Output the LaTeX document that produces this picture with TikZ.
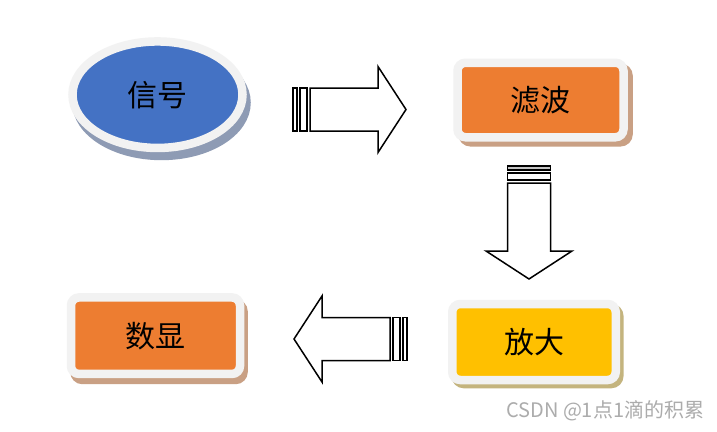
\documentclass[tikz,border=0pt]{standalone}
\usepackage{fontspec}
\setmainfont{Noto Sans CJK SC}
\usetikzlibrary{shapes.geometric}
\definecolor{sigblue}{HTML}{4472C4}
\definecolor{boxorange}{HTML}{ED7D31}
\definecolor{boxyellow}{HTML}{FFC000}
\definecolor{rimgray}{HTML}{F2F2F2}
\definecolor{blueshade}{HTML}{8E9BB4}
\definecolor{orangeshade}{HTML}{C9A084}
\definecolor{yellowshade}{HTML}{C4B47E}
\definecolor{markgray}{HTML}{ACACAC}
\definecolor{stripegray}{HTML}{C4C4C4}
\tikzset{
  arrowline/.style={draw=black, line width=1.5pt, fill=white},
  pics/blockarrow/.style={code={
    \draw[arrowline, fill=#1] (0,-21.5) rectangle (4,21.5);
    \draw[arrowline] (7,-21.5) rectangle (14,21.5);
    \draw[arrowline] (17,-21.5) -- (85,-21.5) -- (85,-43) -- (113,0) -- (85,43) -- (85,21.5) -- (17,21.5) -- cycle;
  }}
}
\begin{document}
\begin{tikzpicture}[x=1pt, y=-1pt,
  label font/.style={font=\fontsize{30}{32}\selectfont},
  shade under/.style n args={3}{preaction={draw=#1, fill=#1, line width=8.5pt, transform canvas={xshift=#2, yshift=-#3}}},
  card/.style={draw=rimgray, line width=8.5pt, rounded corners=8pt, inner sep=0pt, label font}]
  \path[fill=white] (0,0) rectangle (717,431);
  \node[ellipse, draw=rimgray, line width=8.5pt, fill=sigblue, inner sep=0pt, minimum width=170pt, minimum height=106.5pt, label font,
    shade under={blueshade}{4pt}{8pt}] (signal) at (157.5,94.7) {信号};
  \node[card, fill=boxorange, minimum width=166pt, minimum height=74.5pt, shade under={orangeshade}{5pt}{5pt}] (filter) at (540.5,100) {滤波};
  \node[card, fill=boxyellow, minimum width=163.5pt, minimum height=76pt, shade under={yellowshade}{3.5pt}{4pt}] (amp) at (534,342) {放大};
  \node[card, fill=boxorange, minimum width=169pt, minimum height=76.5pt, shade under={orangeshade}{3.5pt}{6pt}] (display) at (155.5,335.7) {数显};
  \pic at (293,109.5) {blockarrow=white};
  \pic[rotate=-90] at (529,166) {blockarrow=stripegray};
  \pic[rotate=180] at (407,339) {blockarrow=white};
  \node[anchor=west, text=markgray, inner sep=0pt, font=\fontsize{20}{20}\selectfont] (mark) at (506,411) {CSDN @1点1滴的积累};
\end{tikzpicture}
\end{document}
